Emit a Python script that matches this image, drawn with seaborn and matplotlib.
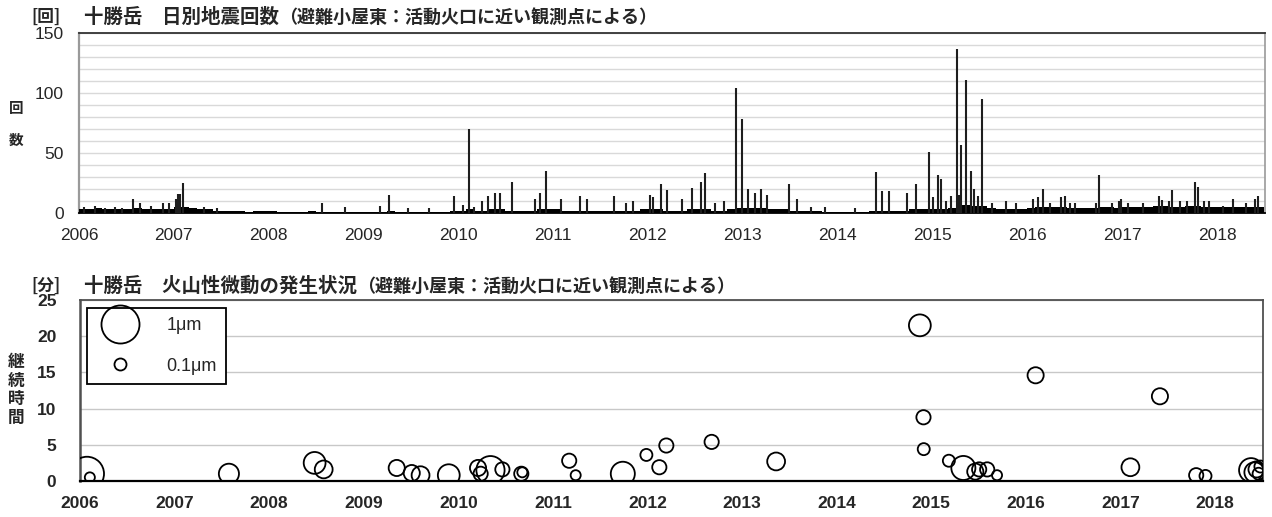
import numpy as np
import pandas as pd
import matplotlib
matplotlib.use("Agg")
import matplotlib.pyplot as plt
import matplotlib.dates as mdates
from matplotlib.ticker import MultipleLocator
from matplotlib.lines import Line2D
import seaborn as sns

# ---- daily earthquake counts: monthly background level (Jan 2006 - Jun 2018) ----
base_2006 = [3, 3, 4, 3, 3, 3, 3, 4, 3, 3, 3, 3]
base_2007 = [5, 5, 4, 3, 3, 2, 2, 2, 2, 1, 2, 2]
base_2008 = [2, 1, 1, 1, 1, 2, 1, 1, 1, 1, 1, 1]
base_2009 = [1, 1, 1, 2, 1, 1, 1, 1, 1, 1, 1, 2]
base_2010 = [2, 3, 2, 2, 3, 3, 2, 2, 2, 2, 3, 3]
base_2011 = [3, 2, 2, 2, 2, 2, 2, 2, 2, 2, 2, 3]
base_2012 = [3, 3, 2, 2, 2, 3, 3, 3, 2, 2, 3, 4]
base_2013 = [4, 4, 4, 3, 3, 3, 2, 2, 2, 2, 1, 1]
base_2014 = [1, 1, 1, 1, 2, 2, 2, 2, 2, 3, 3, 3]
base_2015 = [3, 3, 4, 7, 7, 6, 6, 4, 3, 3, 3, 3]
base_2016 = [4, 5, 5, 5, 5, 4, 4, 4, 4, 5, 5, 4]
base_2017 = [5, 5, 5, 5, 6, 6, 5, 5, 6, 6, 5, 5]
base_2018 = [5, 5, 5, 5, 5, 5]

# ---- days with notably higher counts ----
spike_dates = [
    "2006-01-20", "2006-03-05", "2006-04-10", "2006-05-20", "2006-06-15", "2006-07-27",
    "2006-08-25", "2006-10-05", "2006-11-20", "2006-12-15", "2007-01-08", "2007-01-18",
    "2007-01-26", "2007-02-04", "2007-04-26", "2007-06-15", "2008-07-25", "2008-10-20",
    "2009-03-05", "2009-04-08", "2009-06-20", "2009-09-10", "2009-12-15", "2010-01-20",
    "2010-02-10", "2010-03-01", "2010-04-01", "2010-04-27", "2010-05-22", "2010-06-10",
    "2010-07-25", "2010-10-25", "2010-11-10", "2010-12-05", "2011-02-01", "2011-04-15",
    "2011-05-10", "2011-08-25", "2011-10-10", "2011-11-05", "2012-01-10", "2012-01-21",
    "2012-02-20", "2012-03-13", "2012-05-10", "2012-06-20", "2012-07-25", "2012-08-10",
    "2012-09-15", "2012-10-20", "2012-12-05", "2012-12-28", "2013-01-20", "2013-02-15",
    "2013-03-10", "2013-04-05", "2013-06-28", "2013-07-27", "2013-09-20", "2013-11-15",
    "2014-03-10", "2014-05-30", "2014-06-20", "2014-07-16", "2014-09-27", "2014-10-30",
    "2014-12-17", "2015-01-05", "2015-01-22", "2015-02-02", "2015-02-24", "2015-03-15",
    "2015-04-05", "2015-04-15", "2015-04-23", "2015-05-11", "2015-05-30", "2015-06-10",
    "2015-06-25", "2015-07-10", "2015-08-20", "2015-10-10", "2015-11-20", "2016-01-22",
    "2016-02-10", "2016-03-03", "2016-03-28", "2016-05-12", "2016-05-27", "2016-06-14",
    "2016-07-02", "2016-09-24", "2016-10-05", "2016-11-22", "2016-12-21", "2016-12-28",
    "2017-01-22", "2017-03-22", "2017-05-23", "2017-06-03", "2017-06-29", "2017-07-13",
    "2017-08-11", "2017-09-09", "2017-10-09", "2017-10-20", "2017-11-11", "2017-12-03",
    "2018-01-26", "2018-03-04", "2018-04-24", "2018-05-27", "2018-06-07",
]
spike_counts = [
    5, 6, 4, 5, 4, 12,
    8, 6, 8, 8, 12, 16,
    16, 25, 5, 4, 8, 5,
    6, 15, 4, 4, 14, 7,
    70, 5, 10, 14, 17, 17,
    26, 12, 17, 35, 12, 14,
    12, 14, 8, 10, 15, 13,
    24, 19, 12, 21, 26, 33,
    8, 10, 104, 78, 20, 17,
    20, 15, 24, 12, 5, 5,
    4, 34, 18, 18, 17, 24,
    51, 13, 32, 28, 10, 14,
    137, 15, 57, 111, 35, 20,
    14, 95, 8, 10, 8, 12,
    13, 20, 8, 13, 14, 8,
    8, 8, 32, 8, 10, 12,
    8, 8, 14, 11, 10, 19,
    10, 10, 26, 22, 10, 10,
    6, 12, 8, 12, 14,
]

# ---- volcanic tremor: date, duration (minutes), max amplitude (um) ----
tremor_dates = [
    "2006-01-28", "2006-02-08", "2007-07-30", "2008-06-25", "2008-07-30", "2009-05-08",
    "2009-07-05", "2009-08-08", "2009-11-25", "2010-03-18", "2010-03-28", "2010-05-05",
    "2010-06-20", "2010-09-01", "2010-09-05", "2011-03-05", "2011-03-30", "2011-09-28",
    "2011-12-28", "2012-02-16", "2012-03-14", "2012-09-05", "2013-05-12", "2014-11-18",
    "2014-12-02", "2014-12-03", "2015-03-10", "2015-05-05", "2015-06-20", "2015-07-05",
    "2015-08-05", "2015-09-12", "2016-02-08", "2017-02-08", "2017-06-02", "2017-10-20",
    "2017-11-25", "2018-05-20", "2018-06-02", "2018-06-10", "2018-06-18", "2018-06-25",
]
tremor_minutes = [
    1.0, 0.5, 1.0, 2.5, 1.6, 1.8,
    1.1, 0.8, 0.8, 1.8, 1.0, 1.5,
    1.6, 1.0, 1.2, 2.8, 0.8, 1.0,
    3.6, 1.9, 4.9, 5.4, 2.7, 21.5,
    8.8, 4.4, 2.8, 1.8, 1.3, 1.6,
    1.6, 0.8, 14.6, 1.9, 11.7, 0.8,
    0.7, 1.5, 1.2, 1.6, 1.0, 2.0,
]
tremor_amp = [
    0.80, 0.07, 0.28, 0.33, 0.22, 0.18,
    0.18, 0.22, 0.33, 0.18, 0.14, 0.55,
    0.14, 0.14, 0.07, 0.14, 0.07, 0.40,
    0.10, 0.14, 0.14, 0.14, 0.22, 0.33,
    0.14, 0.10, 0.10, 0.40, 0.18, 0.14,
    0.14, 0.07, 0.18, 0.22, 0.18, 0.14,
    0.10, 0.40, 0.28, 0.18, 0.10, 0.10,
]

legend_amps = [1.0, 0.1]
legend_labels = ["1μm", "0.1μm"]

BUBBLE_AREA = 750.0  # marker area (pt^2) for 1 um

sns.set_style("white")
plt.rcParams["font.family"] = ["Liberation Sans", "Noto Sans CJK JP", "DejaVu Sans"]
JP = ["Noto Sans CJK JP", "DejaVu Sans"]

base_levels = (base_2006 + base_2007 + base_2008 + base_2009 + base_2010 + base_2011 +
               base_2012 + base_2013 + base_2014 + base_2015 + base_2016 + base_2017 +
               base_2018)
month_start = pd.date_range("2006-01-01", periods=len(base_levels), freq="MS")
month_len = [pd.Timedelta(days=d) for d in month_start.days_in_month]

quakes = pd.DataFrame({"date": pd.to_datetime(spike_dates), "count": spike_counts})
tremor = pd.DataFrame({"date": pd.to_datetime(tremor_dates),
                       "minutes": tremor_minutes, "amp": tremor_amp})

W, H = 1272, 517
fig = plt.figure(figsize=(W / 100, H / 100), dpi=100)
ax1 = fig.add_axes([79 / W, 1 - 213 / H, (1265 - 79) / W, (213 - 33) / H])
ax2 = fig.add_axes([80 / W, 1 - 481 / H, (1263 - 80) / W, (481 - 300) / H])

xmin, xmax = pd.Timestamp("2006-01-01"), pd.Timestamp("2018-07-05")

# ---------- upper panel: daily earthquake counts ----------
ax1.bar(month_start, base_levels, width=month_len, align="edge",
        color="black", linewidth=0, zorder=3)
ax1.vlines(quakes["date"], 0, quakes["count"], color="#1e1e1e", lw=1.5, zorder=3)
ax1.set_xlim(xmin, xmax)
ax1.set_ylim(0, 150)
ax1.yaxis.set_major_locator(MultipleLocator(50))
ax1.yaxis.set_minor_locator(MultipleLocator(10))
ax1.grid(axis="y", which="both", color="#d9d9d9", lw=1.0, zorder=0)
ax1.set_axisbelow(True)

# ---------- lower panel: volcanic tremor ----------
sns.scatterplot(data=tremor, x="date", y="minutes", size="amp",
                sizes=(0, BUBBLE_AREA), size_norm=(0, 1), legend=False,
                facecolors="none", edgecolor="black", linewidth=1.3,
                ax=ax2, zorder=4)
ax2.set_xlim(xmin, xmax)
ax2.set_ylim(0, 25)
ax2.yaxis.set_major_locator(MultipleLocator(5))
ax2.grid(axis="y", which="major", color="#c8c8c8", lw=1.0, zorder=0)
ax2.set_axisbelow(True)
ax2.set_xlabel("")
ax2.set_ylabel("")

handles = [Line2D([], [], ls="", marker="o", markersize=np.sqrt(BUBBLE_AREA * a),
                  markerfacecolor="none", markeredgecolor="black", markeredgewidth=1.3,
                  label=l) for a, l in zip(legend_amps, legend_labels)]
leg = ax2.legend(handles=handles, loc="upper left", bbox_to_anchor=(0.006, 0.955),
                 frameon=True, fancybox=False, edgecolor="black", framealpha=1,
                 fontsize=13, borderpad=0.5, labelspacing=1.3, handlelength=2.6,
                 handletextpad=1.3, borderaxespad=0)
leg.get_frame().set_linewidth(1.3)

# ---------- shared axis styling ----------
for ax, tick_col, bold, ypad in ((ax1, "#8c8c8c", False, 6), (ax2, "#1a1a1a", True, 12)):
    ax.xaxis.set_major_locator(mdates.YearLocator())
    ax.xaxis.set_major_formatter(mdates.DateFormatter("%Y"))
    ax.xaxis.set_minor_locator(mdates.MonthLocator())
    ax.tick_params(axis="x", which="major", direction="out", length=6, width=1.2,
                   color=tick_col, labelsize=12.5, pad=5)
    ax.tick_params(axis="x", which="minor", direction="out", length=4, width=1.0,
                   color=tick_col)
    ax.tick_params(axis="y", which="major", direction="out", length=5, width=1.2,
                   color="#404040", labelsize=12.5, pad=ypad)
    ax.tick_params(axis="y", which="minor", length=0)
    if bold:
        for lab in ax.get_xticklabels() + ax.get_yticklabels():
            lab.set_fontweight("bold")

for s, c, w in (("left", "#9a9a9a", 1.6), ("right", "#9a9a9a", 1.2),
                ("top", "#333333", 1.3), ("bottom", "black", 1.3)):
    ax1.spines[s].set_color(c)
    ax1.spines[s].set_linewidth(w)
for s, c, w in (("left", "#505050", 1.8), ("right", "#505050", 1.3),
                ("top", "#505050", 1.3), ("bottom", "black", 1.6)):
    ax2.spines[s].set_color(c)
    ax2.spines[s].set_linewidth(w)

# ---------- titles and axis captions ----------
def title(y_px, unit, main, note):
    fig.text(31 / W, 1 - y_px / H, unit, family=JP, fontsize=12, fontweight="bold",
             va="center", ha="left")
    t = fig.text(84 / W, 1 - y_px / H, main, family=JP, fontsize=14, fontweight="bold",
                 va="center", ha="left")
    ax1.annotate(note, xy=(1, 0.5), xycoords=t, va="center", ha="left",
                 family=JP, fontsize=13, fontweight="bold")

title(17, "[回]", "十勝岳　日別地震回数", "（避難小屋東：活動火口に近い観測点による）")
title(286, "[分]", "十勝岳　火山性微動の発生状況", "（避難小屋東：活動火口に近い観測点による）")

fig.text(16 / W, 1 - 124 / H, "回\n\n数", family=JP, fontsize=10.5, fontweight="bold",
         ha="center", va="center", linespacing=1.0)
fig.text(16 / W, 1 - 390 / H, "継\n続\n時\n間", family=JP, fontsize=12, fontweight="bold",
         ha="center", va="center", linespacing=1.05)

fig.savefig("out.png", dpi=100)
